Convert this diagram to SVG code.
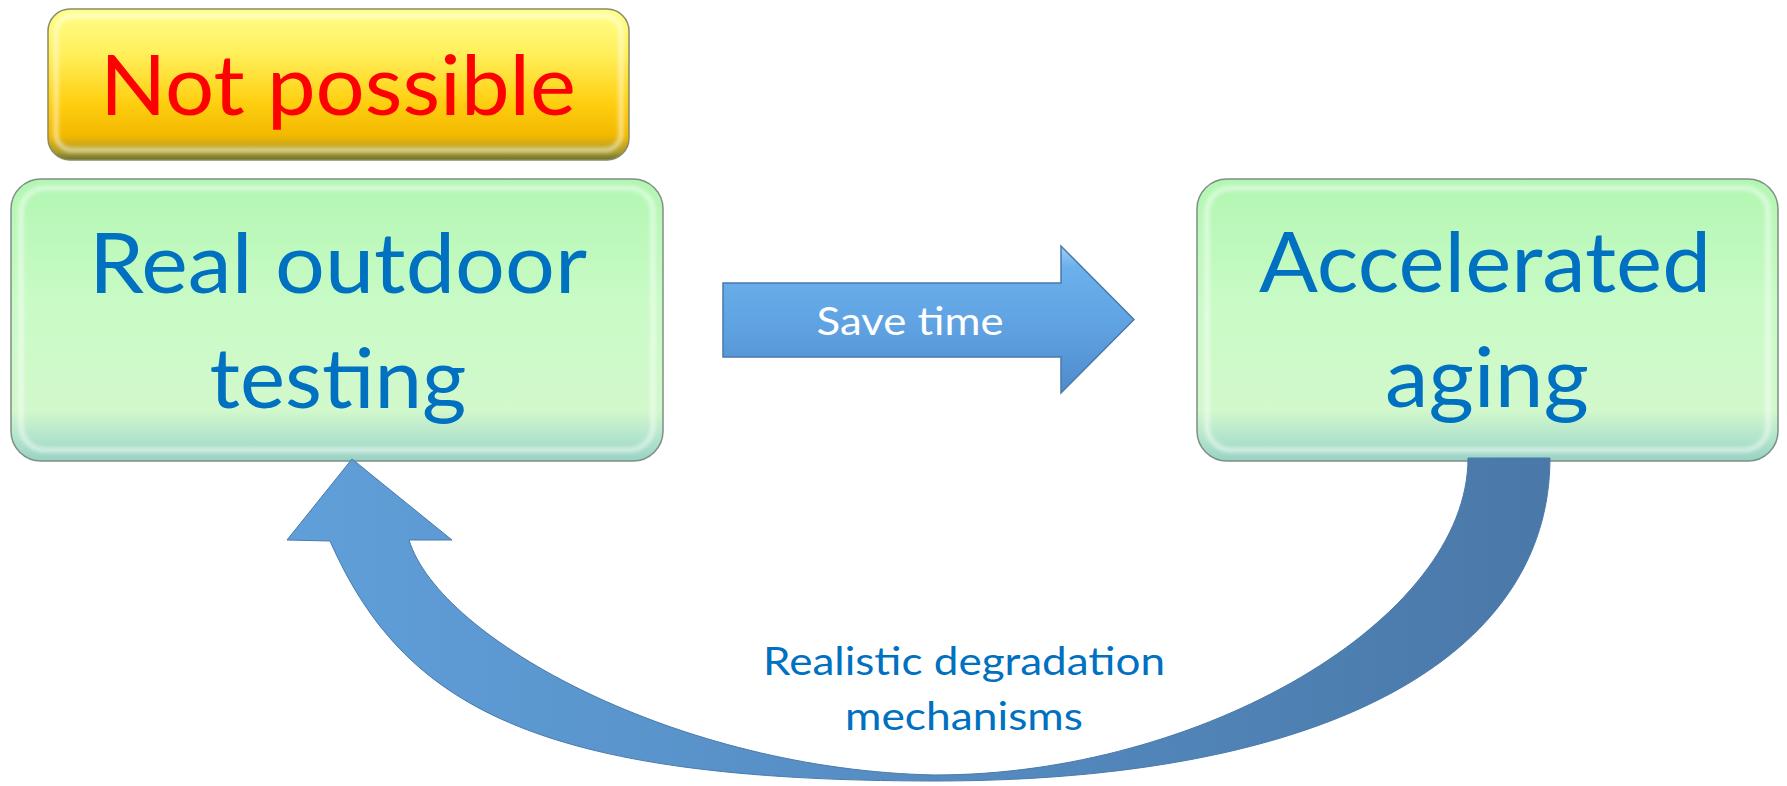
<svg xmlns="http://www.w3.org/2000/svg" width="1787" height="786" viewBox="0 0 1787 786">
  <style>
    .big { font-family: Lato, "Liberation Sans", sans-serif; font-size: 84px; text-anchor: middle; }
    .blue { fill: #0070c0; }
    .red { fill: #ff0000; }
    .small { font-family: Lato, "Liberation Sans", sans-serif; font-size: 38px; text-anchor: middle; }
    .green-box { fill: url(#gGreen); stroke: #7f8f84; stroke-width: 1.5; }
    .yellow-box { fill: url(#gYellow); stroke: #8a8a66; stroke-width: 1.5; }
    .bevel { fill: none; stroke: #ffffff; stroke-opacity: 0.65; stroke-width: 4; filter: url(#soft); }
  </style>
  <defs>
    <linearGradient id="gGreen" x1="0" y1="0" x2="0" y2="1">
      <stop offset="0" stop-color="#b2f6b2"/>
      <stop offset="0.45" stop-color="#c9fbc6"/>
      <stop offset="0.82" stop-color="#d2f8cc"/>
      <stop offset="0.92" stop-color="#b2e4cc"/>
      <stop offset="1" stop-color="#98d2c4"/>
    </linearGradient>
    <linearGradient id="gYellow" x1="0" y1="0" x2="0" y2="1">
      <stop offset="0" stop-color="#ffff8a"/>
      <stop offset="0.3" stop-color="#ffef5a"/>
      <stop offset="0.62" stop-color="#ffcf10"/>
      <stop offset="0.84" stop-color="#f2b800"/>
      <stop offset="0.95" stop-color="#a89a2a"/>
      <stop offset="1" stop-color="#6e6e30"/>
    </linearGradient>
    <linearGradient id="gArrow" x1="0" y1="0" x2="0" y2="1">
      <stop offset="0" stop-color="#9ed0f6"/>
      <stop offset="0.14" stop-color="#6cb0ec"/>
      <stop offset="0.55" stop-color="#5fa2e2"/>
      <stop offset="1" stop-color="#4e8bcc"/>
    </linearGradient>
    <linearGradient id="gCurve" gradientUnits="userSpaceOnUse" x1="290" y1="0" x2="1550" y2="0">
      <stop offset="0" stop-color="#609fd9"/>
      <stop offset="0.5" stop-color="#558cc2"/>
      <stop offset="1" stop-color="#4a78a8"/>
    </linearGradient>
    <filter id="soft" x="-5%" y="-5%" width="110%" height="110%">
      <feGaussianBlur stdDeviation="2"/>
    </filter>
  </defs>

  <g id="node-not-possible">
    <rect class="yellow-box" x="48" y="9" width="581" height="151" rx="22"/>
    <rect class="bevel" x="56" y="16" width="565" height="134" rx="16"/>
    <text class="big red" x="338" y="115" textLength="476" lengthAdjust="spacingAndGlyphs">Not possible</text>
  </g>

  <g id="node-real-outdoor">
    <rect class="green-box" x="11" y="179" width="652" height="282" rx="30"/>
    <rect class="bevel" x="21" y="188" width="632" height="262" rx="24"/>
    <text class="big blue" x="338" y="293" textLength="498" lengthAdjust="spacingAndGlyphs">Real outdoor</text>
    <text class="big blue" x="338" y="408" textLength="257" lengthAdjust="spacingAndGlyphs">testing</text>
  </g>

  <g id="node-accelerated">
    <rect class="green-box" x="1197" y="179" width="581" height="282" rx="30"/>
    <rect class="bevel" x="1207" y="188" width="561" height="262" rx="24"/>
    <text class="big blue" x="1485" y="292" textLength="452" lengthAdjust="spacingAndGlyphs">Accelerated</text>
    <text class="big blue" x="1487" y="407" textLength="204" lengthAdjust="spacingAndGlyphs">aging</text>
  </g>

  <g id="connectors">
    <g id="edge-save-time">
      <polygon points="723,283 1061,283 1061,246 1134,319.5 1061,393 1061,357 723,357" fill="url(#gArrow)" stroke="#4a7aaa" stroke-width="1.5"/>
      <text class="small" x="910" y="335" fill="#ffffff" textLength="187" lengthAdjust="spacingAndGlyphs">Save time</text>
    </g>
    <g id="edge-realistic">
      <path d="M 352 459 L 452 540 L 409 540 C 440 640, 680 770, 935 775 C 1200 775, 1468 620, 1468 458 L 1550 458 C 1550 658, 1325 781, 935 781 C 535 781, 403 706, 330 541 L 287 540 Z" fill="url(#gCurve)" stroke="#4a7aaa" stroke-width="1"/>
      <text class="small blue" x="964" y="675" textLength="402" lengthAdjust="spacingAndGlyphs">Realistic degradation</text>
      <text class="small blue" x="964" y="730" textLength="238" lengthAdjust="spacingAndGlyphs">mechanisms</text>
    </g>
  </g>
</svg>
